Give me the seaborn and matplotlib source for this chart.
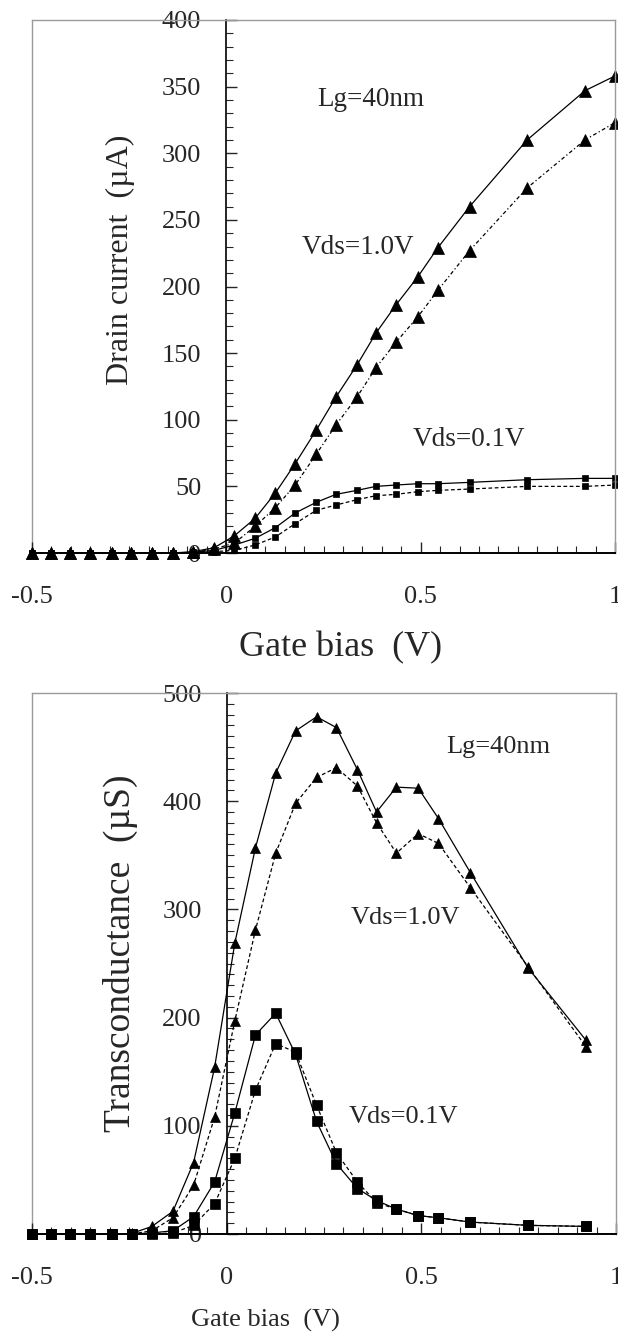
import matplotlib
matplotlib.use("Agg")
import matplotlib.pyplot as plt
import seaborn as sns
from matplotlib.ticker import MultipleLocator, FuncFormatter

# === Data ===
# gate bias (V), drain current panel
vg_id = [-0.5, -0.451, -0.403, -0.351, -0.295, -0.244, -0.192, -0.138, -0.085, -0.031,
         0.021, 0.074, 0.126, 0.177, 0.231, 0.282, 0.336, 0.385, 0.436, 0.492,
         0.544, 0.626, 0.774, 0.923, 1.0]
# drain current (uA), Vds=1.0V, solid / dashed
id_10_solid = [0, 0, 0, 0, 0, 0, 0, 0, 1, 4, 13, 26, 45, 67, 92, 117, 141, 165, 186, 207,
               229, 260, 310, 347, 358]
id_10_dash = [0, 0, 0, 0, 0, 0, 0, 0, 0.5, 3, 7.5, 20, 34, 51, 74, 96, 117, 139, 158, 177,
              197, 227, 274, 310, 323]
# drain current (uA), Vds=0.1V, solid / dashed
id_01_solid = [0, 0, 0, 0, 0, 0, 0, 0, 0.5, 2, 6, 11, 19, 30, 38, 44, 47, 50, 51, 52,
               52, 53, 55, 56, 56]
id_01_dash = [0, 0, 0, 0, 0, 0, 0, 0, 0.3, 1, 2, 6, 12, 22, 32, 36, 40, 43, 44, 46,
              47, 48, 50, 50, 51]

# gate bias (V), transconductance panel
vg_gm = [-0.5, -0.451, -0.403, -0.351, -0.295, -0.244, -0.192, -0.138, -0.085, -0.031,
         0.021, 0.074, 0.126, 0.177, 0.231, 0.282, 0.336, 0.385, 0.436, 0.492,
         0.544, 0.626, 0.774, 0.923]
# transconductance (uS), Vds=1.0V
gm_10_solid = [0, 0, 0, 0, 0, 0.5, 7, 21, 66, 154, 269, 357, 426, 465, 478, 468, 429, 390,
               413, 412, 384, 334, 246, 179]
gm_10_dash = [0, 0, 0, 0, 0, 0, 3, 15, 45, 108, 197, 281, 352, 398, 422, 431, 414, 380,
              352, 370, 361, 320, 247, 173]
# transconductance (uS), Vds=0.1V
gm_01_solid = [0, 0, 0, 0, 0, 0, 1, 3, 16, 48, 112, 184, 204, 166, 104, 65, 42, 31,
               23, 17, 15, 11, 8, 7]
gm_01_dash = [0, 0, 0, 0, 0, 0, 0, 1, 8, 28, 70, 133, 176, 168, 119, 75, 48, 29,
              23, 17, 15, 11, 8, 7]

sns.set_style("ticks")
plt.rcParams['font.family'] = ['Liberation Serif', 'DejaVu Serif']
plt.rcParams['axes.unicode_minus'] = False

FRAME = '#9a9a9a'
DASH = (0, (3, 2))
DASHDOT = (0, (3, 2, 1, 2))


def curve(ax, x, y, marker, ls, ms):
    sns.lineplot(x=x, y=y, ax=ax, color='k', marker=marker, linestyle=ls, lw=0.9,
                 markersize=ms, mec='k', mfc='k', mew=0.5, sort=False, clip_on=False)


def setup(ax, ymax, ymaj):
    ax.set_xlim(-0.5, 1.0)
    ax.set_ylim(0, ymax)
    ax.spines['left'].set_position(('data', 0))
    ax.spines['left'].set_color('k')
    ax.spines['bottom'].set_color('k')
    ax.spines['left'].set_linewidth(1.2)
    ax.spines['bottom'].set_linewidth(1.4)
    for s in ['top', 'right']:
        ax.spines[s].set_visible(True)
        ax.spines[s].set_color(FRAME)
        ax.spines[s].set_linewidth(1.0)
    ax.axvline(-0.5, color=FRAME, lw=1.0, clip_on=False, zorder=0)
    ax.xaxis.set_major_locator(MultipleLocator(0.5))
    ax.xaxis.set_minor_locator(MultipleLocator(0.05))
    ax.yaxis.set_major_locator(MultipleLocator(ymaj))
    ax.yaxis.set_minor_locator(MultipleLocator(10))
    ax.xaxis.set_major_formatter(FuncFormatter(lambda v, p: f'{v:g}'))
    ax.yaxis.set_major_formatter(FuncFormatter(lambda v, p: f'{v:g}'))
    ax.tick_params(which='both', direction='in', labelsize=19, top=False, right=False)
    ax.tick_params(which='major', length=8, width=1)
    ax.tick_params(which='minor', length=5, width=0.8)
    ax.tick_params(axis='x', pad=24)
    ax.tick_params(axis='y', pad=18)


fig = plt.figure(figsize=(6.18, 13.36), dpi=100)

# --- Drain current ---
ax1 = fig.add_axes([32 / 618, 1 - 553 / 1336, 583 / 618, 533 / 1336])
setup(ax1, 400, 50)
curve(ax1, vg_id, id_10_solid, '^', '-', 8)
curve(ax1, vg_id, id_10_dash, '^', DASHDOT, 8)
curve(ax1, vg_id, id_01_solid, 's', '-', 5)
curve(ax1, vg_id, id_01_dash, 's', DASH, 5)
ax1.text(0.371, 340, 'Lg=40nm', fontsize=19.5, ha='center', va='center')
ax1.text(0.338, 229, 'Vds=1.0V', fontsize=19.5, ha='center', va='center')
ax1.text(0.624, 85, 'Vds=0.1V', fontsize=19.5, ha='center', va='center')
ax1.set_xlabel('Gate bias  (V)', fontsize=26, va='center')
ax1.xaxis.set_label_coords(0.53, -0.178)
ax1.set_ylabel('Drain current  (\u00b5A)', fontsize=23, va='center')
ax1.yaxis.set_label_coords(0.151, 0.55)

# --- Transconductance ---
ax2 = fig.add_axes([32 / 618, 1 - 1234 / 1336, 584 / 618, 541 / 1336])
setup(ax2, 500, 100)
curve(ax2, vg_gm, gm_10_solid, '^', '-', 7.5)
curve(ax2, vg_gm, gm_10_dash, '^', DASH, 7.5)
curve(ax2, vg_gm, gm_01_solid, 's', '-', 7)
curve(ax2, vg_gm, gm_01_dash, 's', DASH, 7)
ax2.text(0.697, 450, 'Lg=40nm', fontsize=19, ha='center', va='center')
ax2.text(0.46, 292, 'Vds=1.0V', fontsize=19, ha='center', va='center')
ax2.text(0.455, 108, 'Vds=0.1V', fontsize=19, ha='center', va='center')
ax2.set_xlabel('Gate bias  (V)', fontsize=19, va='center')
ax2.xaxis.set_label_coords(0.40, -0.159)
ax2.set_ylabel('Transconductance  (\u00b5S)', fontsize=27, va='center')
ax2.yaxis.set_label_coords(0.151, 0.519)

fig.savefig('out.png', dpi=100)
